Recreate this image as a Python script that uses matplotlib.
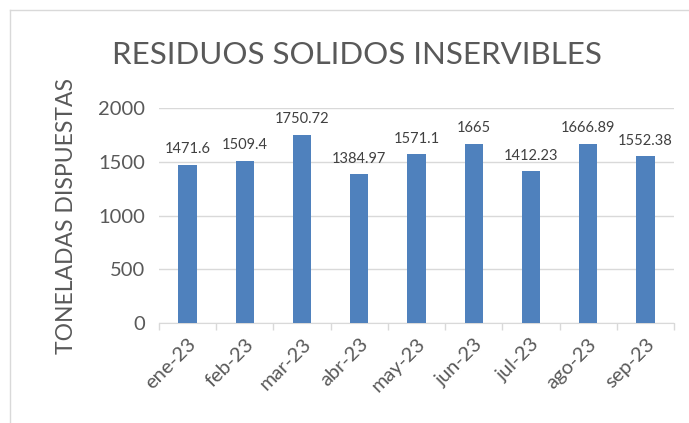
import matplotlib.pyplot as plt
from matplotlib.lines import Line2D

meses = ["ene-23", "feb-23", "mar-23", "abr-23", "may-23", "jun-23", "jul-23", "ago-23", "sep-23"]
toneladas = [1471.6, 1509.4, 1750.72, 1384.97, 1571.1, 1665, 1412.23, 1666.89, 1552.38]
etiquetas = ["1471.6", "1509.4", "1750.72", "1384.97", "1571.1", "1665", "1412.23", "1666.89", "1552.38"]

plt.rcParams['font.family'] = ['Lato', 'DejaVu Sans']
gris = '#595959'

fig = plt.figure(figsize=(6.89, 4.23), dpi=100)
ax = fig.add_axes([159/689, 1-323/423, (674-159)/689, (323-108)/423])

x = range(len(meses))
ax.bar(x, toneladas, width=0.32, color='#4F81BD', zorder=3)
for i, (v, t) in enumerate(zip(toneladas, etiquetas)):
	ax.text(i, v + 80, t, ha='center', va='bottom', fontsize=10.5, color='#404040')

ax.set_xlim(-0.5, len(meses) - 0.5)
ax.set_ylim(0, 2000)
ax.set_yticks([0, 500, 1000, 1500, 2000])
ax.yaxis.grid(True, color='#D9D9D9', lw=1, zorder=0)
ax.tick_params(axis='y', length=0, labelsize=14.5, labelcolor=gris, pad=10)

# ticks at category boundaries
ax.set_xticks([i - 0.5 for i in range(len(meses) + 1)], minor=True)
ax.set_xticks(list(x))
ax.set_xticklabels(meses, rotation=45, ha='right', rotation_mode='anchor', fontsize=14.5, color=gris)
ax.tick_params(axis='x', which='major', length=0, pad=9)
ax.tick_params(axis='x', which='minor', length=5, color='#D9D9D9', width=1)

for s in ['top', 'right', 'left']:
	ax.spines[s].set_visible(False)
ax.spines['bottom'].set_color('#D9D9D9')

ax.set_ylabel("TONELADAS DISPUESTAS", fontsize=16.5, color=gris, labelpad=15)
fig.text(357/689, 1-55/423, "RESIDUOS SOLIDOS INSERVIBLES", ha='center', va='center', fontsize=22.5, color=gris)

# chart frame
fig.add_artist(Line2D([10/689, 1], [1-10/423, 1-10/423], color='#D9D9D9', lw=1, transform=fig.transFigure))
fig.add_artist(Line2D([10/689, 10/689], [0, 1-10/423], color='#D9D9D9', lw=1, transform=fig.transFigure))

fig.savefig("out.png", dpi=100)
